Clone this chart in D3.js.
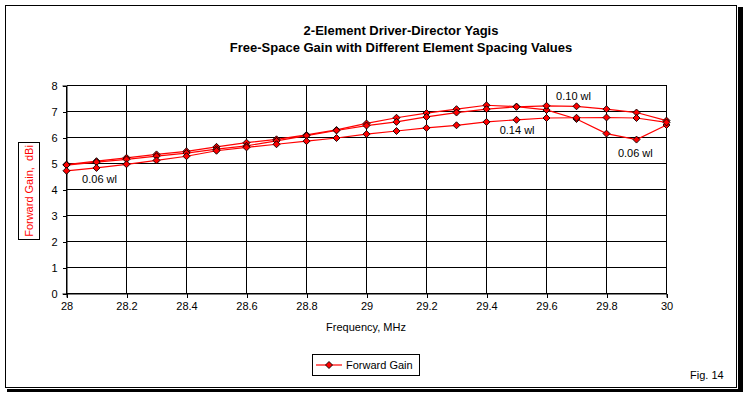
<!DOCTYPE html>
<html>
<head>
<meta charset="utf-8">
<script src="https://cdn.jsdelivr.net/npm/d3@7"></script>
<style>
  body { margin: 0; background: #fff; }
  svg text { font-family: "Liberation Sans", Arial, sans-serif; }
</style>
</head>
<body>
<div id="chart"></div>
<script>
/////////////////////////////////////////////////////
///////////////////// Data //////////////////////////
/////////////////////////////////////////////////////

// Frequency, MHz
const freq = [28.0, 28.1, 28.2, 28.3, 28.4, 28.5, 28.6, 28.7, 28.8, 28.9, 29.0,
              29.1, 29.2, 29.3, 29.4, 29.5, 29.6, 29.7, 29.8, 29.9, 30.0];

// Forward gain, dBi, one array per element spacing
const gain006 = [4.96, 5.09, 5.22, 5.35, 5.47, 5.64, 5.80, 5.93, 6.10, 6.29, 6.54,
                 6.76, 6.94, 7.09, 7.24, 7.19, 7.06, 6.71, 6.15, 5.92, 6.48];
const gain010 = [4.94, 5.05, 5.16, 5.28, 5.40, 5.55, 5.68, 5.87, 6.07, 6.27, 6.46,
                 6.60, 6.79, 6.96, 7.09, 7.18, 7.22, 7.20, 7.09, 6.96, 6.65];
const gain014 = [4.72, 4.83, 4.97, 5.12, 5.28, 5.49, 5.62, 5.74, 5.86, 5.98, 6.13,
                 6.25, 6.37, 6.47, 6.60, 6.68, 6.75, 6.76, 6.77, 6.75, 6.58];

const xTicks = [28, 28.2, 28.4, 28.6, 28.8, 29, 29.2, 29.4, 29.6, 29.8, 30];
const yTicks = [0, 1, 2, 3, 4, 5, 6, 7, 8];

// Curve labels, anchored in data units (left edge, baseline)
const labelText = ["0.06 wl", "0.10 wl", "0.14 wl", "0.06 wl"];
const labelFreq = [28.052, 29.632, 29.444, 29.838];
const labelGain = [4.24, 7.43, 6.13, 5.25];

/////////////////////////////////////////////////////
///////////////////// Chart /////////////////////////
/////////////////////////////////////////////////////

const width  = 744;
const height = 396;
const red    = '#ff0000';

const svg = d3.select("#chart").append("svg")
  .attr("width", width)
  .attr("height", height);

// Chart frame with the drop shadow
svg.append("rect").attr("x", 738).attr("y", 7).attr("width", 5).attr("height", 385).attr("fill", "#000");
svg.append("rect").attr("x", 7).attr("y", 389).attr("width", 736).attr("height", 3).attr("fill", "#000");
svg.append("rect").attr("x", 5.5).attr("y", 5.5).attr("width", 731).attr("height", 382)
  .attr("fill", "#fff").attr("stroke", "#000");

const x = d3.scaleLinear().domain([28, 30]).range([66.5, 666.5]);
const y = d3.scaleLinear().domain([0, 8]).range([293.5, 85.5]);

// Titles
const title = svg.append("g")
  .attr("font-weight", "bold")
  .attr("font-size", "13px")
  .attr("text-anchor", "middle");
title.append("text").attr("x", 401).attr("y", 35).text("2-Element Driver-Director Yagis");
title.append("text").attr("x", 401).attr("y", 52).text("Free-Space Gain with Different Element Spacing Values");

// Gridlines
const grid = svg.append("g").attr("stroke", "#000").attr("shape-rendering", "crispEdges");
grid.selectAll("line.h").data(yTicks).enter().append("line")
  .attr("x1", x(28)).attr("x2", x(30))
  .attr("y1", d => y(d)).attr("y2", d => y(d));
grid.selectAll("line.v").data(xTicks).enter().append("line")
  .attr("x1", d => x(d)).attr("x2", d => x(d))
  .attr("y1", y(0)).attr("y2", y(8));

// Axes
const xAxis = svg.append("g")
  .attr("transform", `translate(0,${y(0)})`)
  .call(d3.axisBottom(x).tickValues(xTicks).tickSize(4).tickPadding(5).tickFormat(d3.format("")));
const yAxis = svg.append("g")
  .attr("transform", `translate(${x(28)},0)`)
  .call(d3.axisLeft(y).tickValues(yTicks).tickSize(4).tickPadding(5).tickFormat(d3.format("d")));

[xAxis, yAxis].forEach(a => {
  a.select(".domain").attr("stroke", "#000");
  a.selectAll(".tick line").attr("stroke", "#000").attr("shape-rendering", "crispEdges");
  a.selectAll("text").attr("fill", "#000").attr("font-size", "11px")
    .style("font-family", "'Liberation Sans', Arial, sans-serif");
});

svg.append("text")
  .attr("x", 366).attr("y", 331)
  .attr("text-anchor", "middle")
  .attr("font-size", "11px")
  .text("Frequency, MHz");

// Y-axis title in its box
svg.append("rect").attr("x", 18.5).attr("y", 142.5).attr("width", 21).attr("height", 97)
  .attr("fill", "none").attr("stroke", "#000");
svg.append("text")
  .attr("transform", "translate(32.5,191) rotate(-90)")
  .attr("text-anchor", "middle")
  .attr("font-size", "11px")
  .attr("fill", red)
  .attr("xml:space", "preserve")
  .text("Forward Gain,  dBi");

// Series
const diamond = "M0,-3.5L3.5,0L0,3.5L-3.5,0Z";
const line = d3.line().x((d, i) => x(freq[i])).y(d => y(d));

[gain006, gain010, gain014].forEach(series => {
  svg.append("path")
    .datum(series)
    .attr("d", line)
    .attr("fill", "none")
    .attr("stroke", red)
    .attr("stroke-width", 1.2);
});

[gain006, gain010, gain014].forEach(series => {
  svg.append("g").selectAll("path")
    .data(series)
    .enter().append("path")
    .attr("transform", (d, i) => `translate(${x(freq[i])},${y(d)})`)
    .attr("d", diamond)
    .attr("fill", red)
    .attr("stroke", "#000")
    .attr("stroke-width", 0.9);
});

// Curve labels
svg.append("g").selectAll("text")
  .data(labelText)
  .enter().append("text")
  .attr("x", (d, i) => x(labelFreq[i]))
  .attr("y", (d, i) => y(labelGain[i]))
  .attr("font-size", "11px")
  .text(d => d);

// Legend
const legend = svg.append("g");
legend.append("rect").attr("x", 312.5).attr("y", 354.5).attr("width", 107).attr("height", 21)
  .attr("fill", "#fff").attr("stroke", "#000");
legend.append("line").attr("x1", 316).attr("x2", 342).attr("y1", 365).attr("y2", 365)
  .attr("stroke", red).attr("stroke-width", 1.2);
legend.append("path").attr("transform", "translate(329,365)").attr("d", diamond)
  .attr("fill", red).attr("stroke", "#000").attr("stroke-width", 0.9);
legend.append("text").attr("x", 346).attr("y", 369).attr("font-size", "11px").text("Forward Gain");

svg.append("text").attr("x", 690).attr("y", 379).attr("font-size", "11px").text("Fig. 14");
</script>
</body>
</html>
